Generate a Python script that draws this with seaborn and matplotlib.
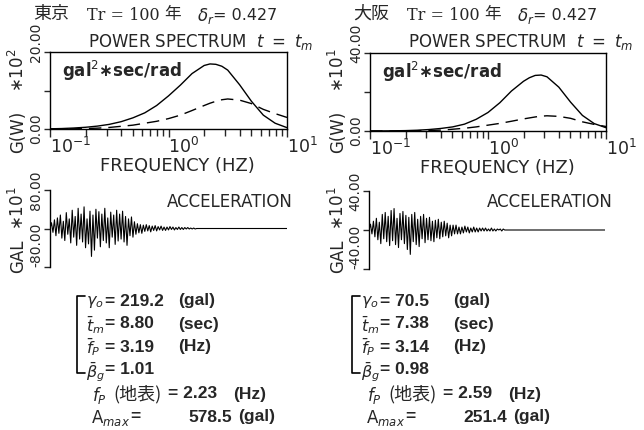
import matplotlib
matplotlib.use("Agg")
import matplotlib.pyplot as plt
from matplotlib.lines import Line2D
from matplotlib.transforms import ScaledTranslation
import seaborn as sns
import pandas as pd

# ---------------- data ----------------
freq_hz = [0.100, 0.126, 0.158, 0.200, 0.251, 0.316, 0.398, 0.501, 0.631, 0.794,
           1.00, 1.26, 1.58, 2.00, 2.24, 2.51, 2.82, 3.16, 3.98, 5.01, 6.31, 7.94, 10.0]

tokyo_solid = [0.05, 0.12, 0.25, 0.45, 0.75, 1.2, 1.9, 2.9, 4.2, 6.1,
               8.6, 11.4, 14.4, 16.5, 16.9, 16.8, 16.3, 15.3, 11.5, 7.2, 3.6, 1.5, 0.35]
tokyo_dash = [0.0, 0.02, 0.05, 0.12, 0.22, 0.4, 0.7, 1.0, 1.5, 2.0,
              2.7, 3.6, 4.8, 6.1, 6.7, 7.2, 7.6, 7.8, 7.5, 6.6, 5.1, 4.0, 3.0]
osaka_solid = [0.02, 0.05, 0.1, 0.2, 0.4, 0.75, 1.3, 2.1, 3.5, 6.0,
               9.5, 14.5, 20.5, 25.5, 27.3, 28.5, 28.7, 27.8, 22.5, 14.8, 8.0, 3.8, 1.7]
osaka_dash = [0.0, 0.01, 0.03, 0.07, 0.15, 0.28, 0.45, 0.9, 1.4, 2.1,
              3.0, 3.9, 5.0, 6.2, 6.7, 7.2, 7.6, 7.8, 7.5, 6.5, 4.7, 3.4, 2.3]

acc_step = 0.25
acc_end = 40.0
acc_tokyo = [0, 12, -8, 18, -15, 22, -10, 28, -20, 15,
             -25, 33, -12, 20, -30, 38, -18, 25, -35, 42,
             -22, 30, -28, 45, -40, 20, -32, 36, -58, 28,
             -45, 40, -20, 35, -38, 30, -25, 42, -30, 22,
             -40, 34, -18, 28, -33, 38, -26, 30, -22, 36,
             -28, 25, -35, 20, -15, 24, -18, 14, -12, 10,
             -9, 8, -10, 7, -6, 8, -5, 6, -7, 5,
             -4, 6, -5, 4, -3, 5, -4, 3, -4, 3,
             -3, 4, -2, 3, -3, 2, -2, 3, -2, 2,
             -2, 2, -1, 2, -1, 1, -1, 1, -1, 0, 0]
acc_osaka = [0, 6, -4, 9, -7, 12, -10, 8, -14, 16,
             -9, 18, -12, 14, -16, 20, -11, 22, -15, 12,
             -18, 17, -10, 19, -14, 15, -20, 13, -25, 16,
             -12, 18, -15, 11, -17, 14, -9, 16, -13, 12,
             -10, 13, -11, 9, -12, 10, -8, 11, -9, 8,
             -7, 9, -6, 7, -8, 5, -6, 5, -4, 5,
             -4, 3, -4, 3, -3, 4, -2, 3, -3, 2,
             -2, 3, -2, 2, -2, 2, -1, 2, -1, 2,
             -1, 1, -1, 2, -1, 1, -1, 1, 0, 1,
             -1, 1, 0, 0]

cities = ["東京", "大阪"]
return_period = ["Tr = 100", "Tr = 100"]
delta_r = ["= 0.427", "= 0.427"]
spec_ymax = [20, 40]
spec_mult = ["∗10$^2$", "∗10$^1$"]
acc_ymax = [80, 40]
acc_mult = ["∗10$^1$", "∗10$^1$"]
gamma0 = ["219.2", "70.5"]
tm_vals = ["8.80", "7.38"]
fp_vals = ["3.19", "3.14"]
beta_vals = ["1.01", "0.98"]
fp_ground = ["2.23", "2.59"]
amax_vals = ["578.5", "251.4"]

# ---------------- figure ----------------
sns.set_style("white")
plt.rcParams["font.family"] = ["DejaVu Sans", "Noto Sans CJK JP"]
plt.rcParams["mathtext.fontset"] = "dejavusans"

W, H = 644, 430
fig = plt.figure(figsize=(W / 100, H / 100), dpi=100)
fig.patch.set_facecolor("white")


def fx(x):
    return x / W


def fy(y):
    return 1 - y / H


def ftext(x, y, s, **kw):
    kw.setdefault("va", "center")
    kw.setdefault("ha", "left")
    fig.text(fx(x), fy(y), s, **kw)


def axes_px(x0, y0, x1, y1):
    return fig.add_axes([fx(x0), fy(y1), (x1 - x0) / W, (y1 - y0) / H])


spec_boxes = [(50, 52, 287, 129), (370, 53, 606, 131)]
acc_boxes = [(50, 190, 287, 267), (369, 191, 605, 269)]
solids = [tokyo_solid, osaka_solid]
dashes = [tokyo_dash, osaka_dash]
accs = [acc_tokyo, acc_osaka]
dx = [0, 320]
cjk = ["Noto Sans CJK JP", "DejaVu Sans"]
bold = ["Liberation Sans", "DejaVu Sans"]

for i in range(2):
    ox = dx[i]
    # ---- title ----
    ftext(33 + ox, 14, cities[i], fontsize=13, family=cjk)
    ftext(87 + ox, 15, return_period[i], fontsize=11.5, family=["DejaVu Serif"])
    ftext(164 + ox, 15, "年", fontsize=12, family=cjk)
    ftext(197 + ox, 16, r"$\delta_r$", fontsize=12)
    ftext(213 + ox, 15, delta_r[i], fontsize=11.5)

    # ---- spectrum ----
    x0, y0, x1, y1 = spec_boxes[i]
    ax = axes_px(x0, y0, x1, y1)
    df = pd.DataFrame({"f": freq_hz, "solid": solids[i], "dash": dashes[i]})
    sns.lineplot(data=df, x="f", y="solid", ax=ax, color="black", lw=1.0,
                 estimator=None, sort=False)
    sns.lineplot(data=df, x="f", y="dash", ax=ax, color="black", lw=1.0,
                 estimator=None, sort=False, linestyle=(0, (9, 5)))
    ax.set_xscale("log")
    ax.set_xlim(0.1, 10)
    ax.set_ylim(0, spec_ymax[i])
    ax.set_xlabel("")
    ax.set_ylabel("")
    for sp in ax.spines.values():
        sp.set_visible(True)
        sp.set_color("black")
        sp.set_linewidth(1.0)
    ax.set_xticks([0.1, 1, 10])
    ax.set_xticklabels([r"$10^{-1}$", r"$10^{0}$", r"$10^{1}$"], fontsize=12.5, ha="left")
    ax.tick_params(axis="x", which="major", direction="out", length=6, width=1, pad=0,
                   bottom=True)
    ax.tick_params(axis="x", which="minor", direction="out", length=5, width=1, bottom=True)
    ax.set_yticks([0, spec_ymax[i] / 2, spec_ymax[i]])
    ax.set_yticklabels(["0.00", "", f"{spec_ymax[i]:.2f}"], rotation=90, fontsize=10,
                       va="center")
    ax.tick_params(axis="y", direction="out", length=4, width=1, left=True, pad=1)
    top_lbl = ax.get_yticklabels()[2]
    top_lbl.set_transform(top_lbl.get_transform()
                          + ScaledTranslation(0, 0.1, fig.dpi_scale_trans))
    ax.text(0.05, 0.76, "gal$^2$∗sec/rad", transform=ax.transAxes, fontsize=12,
            fontweight="bold", va="center", ha="left")
    ftext(88 + ox, 42, r"POWER SPECTRUM  $t\ =\ t_m$", fontsize=12)
    ftext(100 + ox, 166 + (y1 - 129), "FREQUENCY (HZ)", fontsize=13)
    ftext(18 + ox, 132, "G(W)", fontsize=12, rotation=90, ha="center")
    ftext(18 + ox, 70, spec_mult[i], fontsize=12, rotation=90, ha="center")

    # ---- acceleration ----
    x0, y0, x1, y1 = acc_boxes[i]
    ax2 = axes_px(x0, y0, x1, y1)
    t = [k * acc_step for k in range(len(accs[i]))] + [acc_end]
    a = accs[i] + [0]
    sns.lineplot(x=t, y=a, ax=ax2, color="black", lw=0.8, estimator=None, sort=False)
    ax2.set_xlim(0, acc_end)
    ax2.set_ylim(-acc_ymax[i], acc_ymax[i])
    for k in ["top", "right", "bottom"]:
        ax2.spines[k].set_visible(False)
    ax2.spines["left"].set_visible(True)
    ax2.spines["left"].set_color("black")
    ax2.spines["left"].set_linewidth(1.0)
    ax2.set_xticks([])
    ax2.set_yticks([-acc_ymax[i], 0, acc_ymax[i]])
    ax2.set_yticklabels([f"{-acc_ymax[i]:.2f}", "", f"{acc_ymax[i]:.2f}"], rotation=90,
                        fontsize=10, va="center")
    ax2.get_yticklabels()[0].set_va("bottom")
    ax2.tick_params(axis="y", direction="out", length=4, width=1, left=True, pad=1)
    ftext(167 + ox, 202, "ACCELERATION", fontsize=12)
    ftext(18 + ox, 256, "GAL", fontsize=12, rotation=90, ha="center")
    ftext(18 + ox, 208, acc_mult[i], fontsize=12, rotation=90, ha="center")

    # ---- parameter block ----
    bx = 77 + ox * 275 / 320
    fig.add_artist(Line2D([fx(bx + 8), fx(bx), fx(bx), fx(bx + 8)],
                          [fy(296), fy(296), fy(373), fy(373)], color="black", lw=1.2))
    fs = 12.5
    sym_x = bx + 9
    eq_x = bx + 28
    unit_x = bx + 101
    kw = dict(fontsize=fs, fontweight="bold", family=bold)
    ftext(sym_x, 302, r"$\gamma_o$", fontsize=11.5)
    ftext(eq_x, 301, "= " + gamma0[i], **kw)
    ftext(unit_x, 301, "(gal)", **kw)
    ftext(sym_x, 325, r"$\bar{t}_m$", fontsize=11.5)
    ftext(eq_x, 324, "= " + tm_vals[i], **kw)
    ftext(unit_x, 324, "(sec)", **kw)
    ftext(sym_x, 347, r"$\bar{f}_P$", fontsize=11.5)
    ftext(eq_x, 347, "= " + fp_vals[i], **kw)
    ftext(unit_x, 347, "(Hz)", **kw)
    ftext(sym_x, 372, r"$\bar{\beta}_g$", fontsize=11.5)
    ftext(eq_x, 370, "= " + beta_vals[i], **kw)
    ftext(bx + 15, 395, r"$f_P$", fontsize=12)
    ftext(bx + 36, 394, "(地表)", fontsize=13, family=cjk)
    ftext(bx + 91, 394, "= " + fp_ground[i], **kw)
    ftext(bx + 156, 394, "(Hz)", **kw)
    ftext(bx + 14, 418, r"A$_{max}$", fontsize=12)
    ftext(bx + 53, 417, "=", **kw)
    ftext(bx + 111, 417, amax_vals[i], **kw)
    ftext(bx + 161, 417, "(gal)", **kw)

fig.savefig("out.png", dpi=100, facecolor="white")
